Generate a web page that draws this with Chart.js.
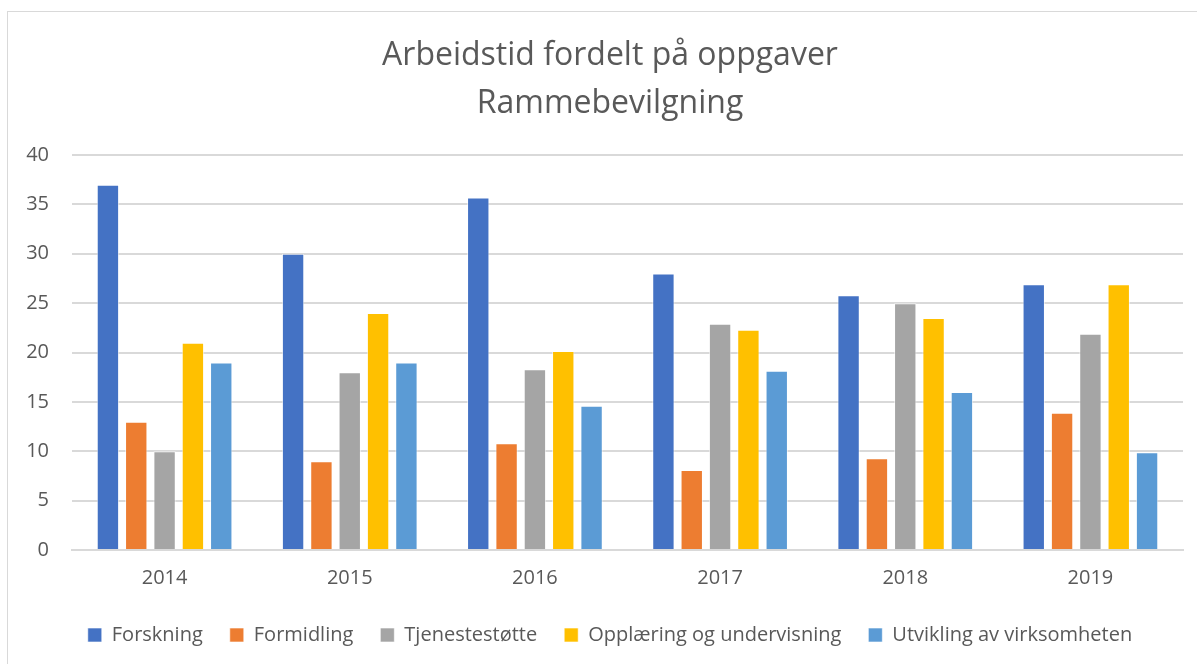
<!DOCTYPE html>
<html>
<head>
<meta charset="utf-8">
<title>Arbeidstid fordelt på oppgaver</title>
<script src="https://cdn.jsdelivr.net/npm/chart.js"></script>
<style>
  html, body { margin: 0; padding: 0; background: #fff; }
  #wrap { position: relative; width: 1197px; height: 664px; overflow: hidden; }
  #frame { position: absolute; left: 7px; top: 11px; width: 1300px; height: 800px; border: 1px solid #d9d9d9; box-sizing: border-box; }
  canvas { position: absolute; left: 0; top: 0; }
</style>
</head>
<body>
<div id="wrap">
  <div id="frame"></div>
  <canvas id="chart" width="1197" height="664"></canvas>
</div>
<script>
  const years = ['2014', '2015', '2016', '2017', '2018', '2019'];
  const forskning = [37, 30, 35.7, 28, 25.8, 26.9];
  const formidling = [13, 9, 10.8, 8.1, 9.3, 13.9];
  const tjenestestotte = [10, 18, 18.3, 22.9, 25, 21.9];
  const opplaering = [21, 24, 20.15, 22.3, 23.5, 26.9];
  const utvikling = [19, 19, 14.6, 18.15, 16, 9.9];
  const yTicks = [0, 5, 10, 15, 20, 25, 30, 35, 40];

  const textColor = '#595959';
  const gridColor = '#d9d9d9';
  const font = "'Open Sans', sans-serif";

  function series(label, data, color) {
    return {
      label: label,
      data: data,
      backgroundColor: color,
      borderColor: 'rgba(255,255,255,0.6)',
      borderWidth: 1,
      borderSkipped: 'bottom',
      barPercentage: 0.79,
      categoryPercentage: 0.765
    };
  }

  new Chart(document.getElementById('chart').getContext('2d'), {
    type: 'bar',
    data: {
      labels: years,
      datasets: [
        series('Forskning', forskning, '#4472C4'),
        series('Formidling', formidling, '#ED7D31'),
        series('Tjenestestøtte', tjenestestotte, '#A5A5A5'),
        series('Opplæring og undervisning', opplaering, '#FFC000'),
        series('Utvikling av virksomheten', utvikling, '#5B9BD5')
      ]
    },
    options: {
      responsive: false,
      animation: false,
      layout: { padding: { left: 23, right: 0, top: 32, bottom: 9 } },
      plugins: {
        title: {
          display: true,
          text: ['Arbeidstid fordelt på oppgaver', 'Rammebevilgning'],
          color: textColor,
          font: { family: font, size: 32, weight: 'normal', lineHeight: 1.5 },
          padding: { top: 0, bottom: 27 }
        },
        legend: {
          position: 'bottom',
          labels: {
            color: textColor,
            font: { family: font, size: 20 },
            boxWidth: 14,
            boxHeight: 14,
            padding: 27
          }
        },
        tooltip: { enabled: false }
      },
      scales: {
        x: {
          grid: { display: false, drawTicks: false },
          border: { display: true, color: gridColor, width: 2 },
          ticks: { color: textColor, font: { family: font, size: 20 }, padding: 16 },
          afterFit: (s) => { s.height = 48; }
        },
        y: {
          min: 0,
          max: 40,
          afterBuildTicks: (s) => { s.ticks = yTicks.map(v => ({ value: v })); },
          grid: { color: gridColor, lineWidth: 2, drawTicks: false },
          border: { display: false },
          ticks: { color: textColor, font: { family: font, size: 20 }, padding: 23 },
          afterFit: (s) => { s.width = 49; }
        },
        // empty axis on the right, only keeps the plot clear of the right edge
        yRight: {
          position: 'right',
          display: true,
          grid: { display: false, drawTicks: false },
          border: { display: false },
          ticks: { display: false },
          afterFit: (s) => { s.width = 14; }
        }
      }
    }
  });
</script>
</body>
</html>
